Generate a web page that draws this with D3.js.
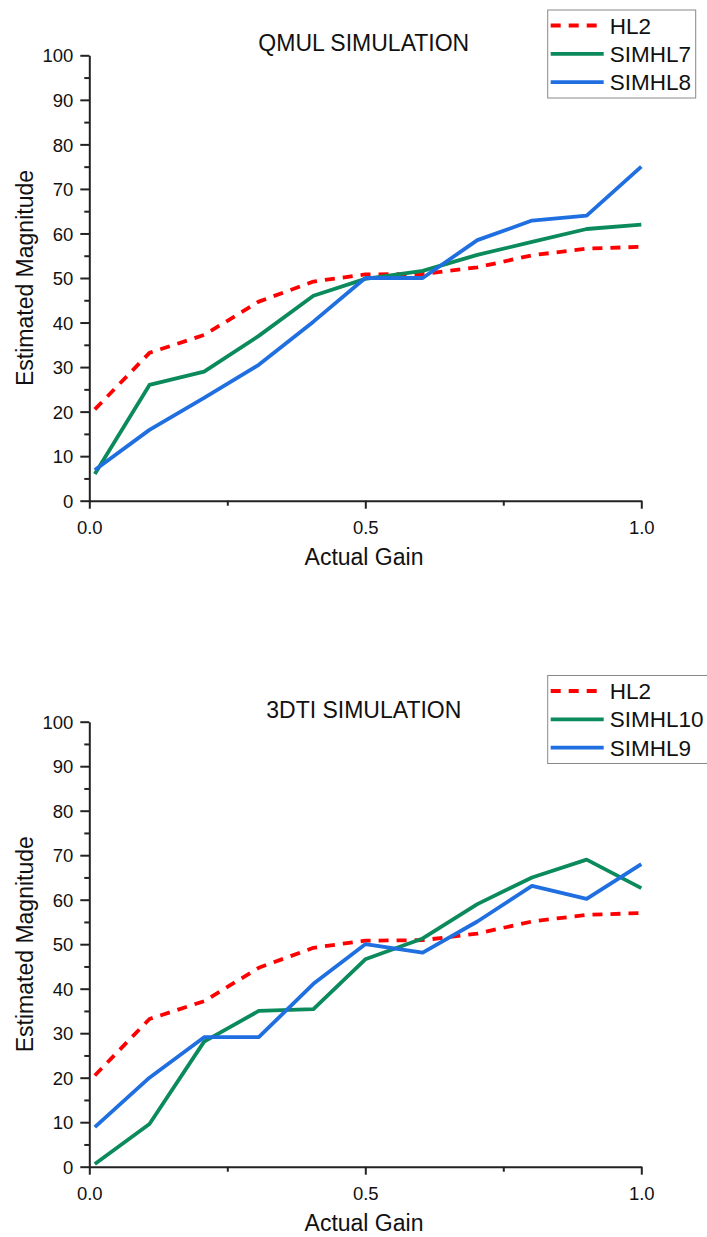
<!DOCTYPE html>
<html>
<head>
<meta charset="utf-8">
<script src="https://cdn.jsdelivr.net/npm/d3@7"></script>
<style>
  html, body { margin: 0; padding: 0; background: #fff; }
  svg { display: block; font-family: "Liberation Sans", Arial, sans-serif; }
</style>
</head>
<body>
<svg id="chart" width="707" height="1237"></svg>
<script>
// ---- data ----
const gain = [0.01, 0.109, 0.208, 0.307, 0.406, 0.5, 0.604, 0.703, 0.802, 0.901, 1.0];

const hl2 = [20.5, 33.2, 37.2, 44.7, 49.2, 50.8, 50.9, 52.4, 55.1, 56.6, 57.0];
const simhl7 = [6.0, 26.0, 29.0, 37.0, 46.0, 49.8, 51.6, 55.2, 58.1, 61.0, 62.0];
const simhl8 = [6.9, 15.9, 23.1, 30.5, 40.2, 50.0, 50.0, 58.5, 62.9, 64.0, 75.0];

const simhl10 = [0.6, 9.6, 28.1, 35.0, 35.4, 46.6, 51.3, 59.0, 65.0, 69.0, 62.6];
const simhl9 = [8.9, 20.0, 29.1, 29.1, 41.1, 50.0, 48.1, 55.1, 63.1, 60.2, 68.0];

const titles = ["QMUL SIMULATION", "3DTI SIMULATION"];
const xTickVals = [0, 0.5, 1.0];
const xTickLabels = ["0.0", "0.5", "1.0"];
const xMinorVals = [0.25, 0.75];
const yTickVals = [0, 10, 20, 30, 40, 50, 60, 70, 80, 90, 100];
const yMinorVals = [5, 15, 25, 35, 45, 55, 65, 75, 85, 95];
const xLabel = "Actual Gain";
const yLabel = "Estimated Magnitude";

const RED = "#ff0000", GREEN = "#0b8a5b", BLUE = "#1f6fe0";

const panels = [
  { title: titles[0], top: 55.3, bottom: 500.7, legendTop: 10, legendRight: 695.7,
    series: [
      { name: "HL2", values: hl2, color: RED, dash: "10,8" },
      { name: "SIMHL7", values: simhl7, color: GREEN, dash: null },
      { name: "SIMHL8", values: simhl8, color: BLUE, dash: null }
    ] },
  { title: titles[1], top: 721.7, bottom: 1166.7, legendTop: 675.5, legendRight: 720,
    series: [
      { name: "HL2", values: hl2, color: RED, dash: "10,8" },
      { name: "SIMHL10", values: simhl10, color: GREEN, dash: null },
      { name: "SIMHL9", values: simhl9, color: BLUE, dash: null }
    ] }
];

const svg = d3.select("#chart");
const left = 89.3, right = 641.3;
const axisColor = "#222";

panels.forEach(p => {
  const g = svg.append("g");
  const x = d3.scaleLinear().domain([0, 1]).range([left, right]);
  const y = d3.scaleLinear().domain([0, 100]).range([p.bottom, p.top]);

  // lines
  const line = d3.line().x((d, i) => x(gain[i])).y(d => y(d));
  p.series.forEach(s => {
    g.append("path")
      .datum(s.values)
      .attr("d", line)
      .attr("fill", "none")
      .attr("stroke", s.color)
      .attr("stroke-width", 3.8)
      .attr("stroke-linejoin", "round")
      .attr("stroke-dasharray", s.dash);
  });

  // x axis
  const xAxis = g.append("g").attr("transform", `translate(0,${p.bottom})`)
    .call(d3.axisBottom(x).tickValues(xTickVals)
      .tickFormat((d, i) => xTickLabels[i]).tickSize(8).tickPadding(8).tickSizeOuter(0));
  const xMinor = g.append("g").attr("transform", `translate(0,${p.bottom})`)
    .call(d3.axisBottom(x).tickValues(xMinorVals).tickFormat("").tickSize(5).tickSizeOuter(0));
  xMinor.select(".domain").remove();

  // y axis
  const yAxis = g.append("g").attr("transform", `translate(${left},0)`)
    .call(d3.axisLeft(y).tickValues(yTickVals).tickSize(9).tickPadding(7).tickSizeOuter(0));
  const yMinor = g.append("g").attr("transform", `translate(${left},0)`)
    .call(d3.axisLeft(y).tickValues(yMinorVals).tickFormat("").tickSize(5).tickSizeOuter(0));
  yMinor.select(".domain").remove();

  [xAxis, xMinor, yAxis, yMinor].forEach(a => {
    a.selectAll(".domain").attr("stroke", axisColor).attr("stroke-width", 2);
    a.selectAll(".tick line").attr("stroke", axisColor).attr("stroke-width", 2);
    a.selectAll(".tick text").attr("fill", "#111").attr("font-size", 18.5)
      .attr("font-family", "'Liberation Sans', Arial, sans-serif");
  });
  xAxis.selectAll(".tick text").attr("dy", "0.95em");
  yAxis.selectAll(".tick text").attr("dy", "0.36em");

  // title
  g.append("text").attr("x", 363.8).attr("y", p.top - 4)
    .attr("text-anchor", "middle").attr("font-size", 23).attr("fill", "#111")
    .text(p.title);

  // axis labels
  g.append("text").attr("x", 364).attr("y", p.bottom + 64.5)
    .attr("text-anchor", "middle").attr("font-size", 23).attr("fill", "#111")
    .text(xLabel);
  g.append("text")
    .attr("transform", `translate(33,${(p.top + p.bottom) / 2}) rotate(-90)`)
    .attr("text-anchor", "middle").attr("font-size", 23).attr("fill", "#111")
    .text(yLabel);

  // legend
  const lx = 547.7, rowH = 28.3;
  const lg = g.append("g");
  lg.append("rect").attr("x", lx).attr("y", p.legendTop)
    .attr("width", p.legendRight - lx).attr("height", 88)
    .attr("fill", "#fff").attr("stroke", "#888").attr("stroke-width", 1);
  p.series.forEach((s, i) => {
    const cy = p.legendTop + 15.5 + i * rowH;
    lg.append("line").attr("x1", lx + 3).attr("x2", lx + 56).attr("y1", cy).attr("y2", cy)
      .attr("stroke", s.color).attr("stroke-width", 3.8)
      .attr("stroke-dasharray", s.dash);
    lg.append("text").attr("x", lx + 62).attr("y", cy + 8)
      .attr("font-size", 22.5).attr("fill", "#111").text(s.name);
  });
});
</script>
</body>
</html>
